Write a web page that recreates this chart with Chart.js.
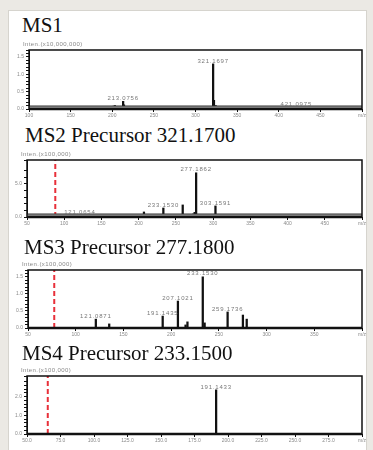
<!DOCTYPE html>
<html>
<head>
<meta charset="utf-8">
<script src="https://cdn.jsdelivr.net/npm/chart.js@4.4.1/dist/chart.umd.min.js"></script>
<style>
  body { margin: 0; width: 373px; height: 450px; background: #ebe9e4; position: relative; overflow: hidden; }
  #sheet { position: absolute; left: 8px; top: 10px; width: 357px; height: 445px; background: #fff; border: 1px solid #d6d4ce; }
  canvas { position: absolute; left: 0; }
  .ttl { position: absolute; font-family: "Liberation Serif", "DejaVu Serif", serif; font-size: 21px; line-height: 21px; color: #111; white-space: nowrap; letter-spacing: 0; }
</style>
</head>
<body>
<div id="sheet"></div>
<canvas id="ms1" width="373" height="83" style="top:38px"></canvas>
<canvas id="ms2" width="373" height="81" style="top:148px"></canvas>
<canvas id="ms3" width="373" height="82" style="top:258px"></canvas>
<canvas id="ms4" width="373" height="82" style="top:364px"></canvas>
<div class="ttl" style="left:22px; top:15px">MS1</div>
<div class="ttl" style="left:25px; top:125px">MS2 Precursor 321.1700</div>
<div class="ttl" style="left:24px; top:237px">MS3 Precursor 277.1800</div>
<div class="ttl" style="left:22px; top:343px">MS4 Precursor 233.1500</div>
<script>
// MS1 full scan
const ms1Mz = [201.0, 203.1, 213.0756, 214.1, 279.0, 321.1697, 322.17, 324.2, 405.0, 421.0975];
const ms1Int = [0.08, 0.10, 0.22, 0.12, 0.05, 1.30, 0.25, 0.10, 0.05, 0.06];
const ms1Labelled = [213.0756, 321.1697, 421.0975];

// MS2 of 321.17
const ms2Mz = [121.0654, 191.1, 207.1, 233.1530, 259.17, 273.2, 275.2, 277.1862, 279.2, 303.1591];
const ms2Int = [0.23, 0.30, 0.76, 1.36, 1.82, 0.45, 0.70, 6.67, 0.40, 1.67];
const ms2Labelled = [121.0654, 233.1530, 277.1862, 303.1591];

// MS3 of 277.18
const ms3Mz = [121.0871, 135.1, 191.1435, 207.1021, 215.1, 217.1, 233.1530, 235.1, 259.1736, 275.2, 279.2];
const ms3Int = [0.26, 0.12, 0.35, 0.79, 0.09, 0.18, 1.50, 0.15, 0.47, 0.38, 0.26];
const ms3Labelled = [121.0871, 191.1435, 207.1021, 233.1530, 259.1736];

// MS4 of 233.15
const ms4Mz = [191.1433];
const ms4Int = [2.36];
const ms4Labelled = [191.1433];

// low mass cut-off markers (red dashed)
const cutoffs = { ms2: 88, ms3: 77.5, ms4: 65.5 };

function spectrum(id, cfg) {
  const canvas = document.getElementById(id);
  const decor = {
    id: 'decor_' + id,
    afterDatasetsDraw(chart) {
      const ctx = chart.ctx, a = chart.chartArea;
      ctx.save();
      if (cfg.noise) {
        ctx.fillStyle = '#9c9c9c';
        ctx.fillRect(a.left, a.bottom - 3, a.right - a.left, 3);
        ctx.fillStyle = '#333';
        ctx.fillRect(a.left, a.bottom - 3.5, a.right - a.left, 1);
      }
      ctx.strokeStyle = '#111';
      ctx.lineWidth = 1.5;
      ctx.strokeRect(a.left, a.top, a.right - a.left, a.bottom - a.top);
      ctx.lineWidth = 2.5;
      ctx.beginPath();
      ctx.moveTo(a.left, a.bottom);
      ctx.lineTo(a.right, a.bottom);
      ctx.stroke();

      // peak labels
      const meta = chart.getDatasetMeta(0);
      const ds = chart.data.datasets[0];
      ctx.font = '6px "Liberation Sans", sans-serif';
      ctx.letterSpacing = '0.8px';
      ctx.fillStyle = '#777';
      ctx.textAlign = 'center';
      ctx.textBaseline = 'middle';
      meta.data.forEach((bar, i) => {
        const mz = ds.data[i].x;
        if (!cfg.labelled.includes(mz)) return;
        ctx.fillText(mz.toFixed(4), bar.x, bar.y - 3);
      });

      // intensity axis title
      ctx.letterSpacing = '0.4px';
      ctx.textAlign = 'left';
      ctx.fillStyle = '#888';
      ctx.fillText(cfg.axisTitle, a.left - 6, a.top - 6);
      ctx.restore();
    }
  };

  const datasets = [{
    type: 'bar',
    data: cfg.mz.map((m, i) => ({ x: m, y: cfg.inten[i] })),
    backgroundColor: '#111',
    barThickness: 1.6,
    grouped: false,
    order: 1
  }];
  if (cfg.cutoff) {
    datasets.push({
      type: 'line',
      data: [{ x: cfg.cutoff, y: 0 }, { x: cfg.cutoff, y: cfg.yMax }],
      borderColor: '#e8303a',
      borderWidth: 2,
      borderDash: [5, 3],
      pointRadius: 0,
      order: 0
    });
  }

  const isMajor = v => Math.abs(v / cfg.yMajor - Math.round(v / cfg.yMajor)) < 1e-6;

  new Chart(canvas, {
    type: 'bar',
    data: { datasets },
    options: {
      responsive: false,
      animation: false,
      layout: { padding: { top: cfg.frameTop - cfg.top, right: 11, left: 0, bottom: 0 } },
      plugins: { legend: { display: false }, tooltip: { enabled: false } },
      scales: {
        x: {
          type: 'linear',
          min: cfg.xMin,
          max: cfg.xMax,
          offset: false,
          grid: { offset: false, drawOnChartArea: false, tickLength: 3, color: '#111' },
          border: { color: '#111' },
          ticks: {
            stepSize: cfg.xStep,
            autoSkip: false,
            maxRotation: 0,
            padding: 1,
            color: '#8a8a8a',
            font: { size: 5, family: '"Liberation Sans", sans-serif' },
            callback: (v, i, ticks) => i === ticks.length - 1 ? 'm/z' : v.toFixed(cfg.xDecimals)
          },
          afterFit: s => { s.height = canvas.height - (cfg.frameBottom - cfg.top); }
        },
        y: {
          min: 0,
          max: cfg.yMax,
          grid: { drawOnChartArea: false, tickLength: 3, color: '#111' },
          border: { color: '#111' },
          ticks: {
            stepSize: cfg.yMinor,
            autoSkip: false,
            padding: 2,
            color: '#8a8a8a',
            font: { size: 5, family: '"Liberation Sans", sans-serif' },
            callback: v => isMajor(v) ? v.toFixed(1) : ''
          },
          afterFit: s => { s.width = cfg.frameLeft; }
        }
      }
    },
    plugins: [decor]
  });
}

spectrum('ms1', {
  mz: ms1Mz, inten: ms1Int, labelled: ms1Labelled,
  top: 38, frameTop: 50, frameBottom: 109, frameLeft: 29,
  xMin: 100, xMax: 500, xStep: 50, xDecimals: 0,
  yMax: 1.7, yMajor: 0.5, yMinor: 0.1,
  axisTitle: 'Inten.(x10,000,000)', noise: true
});
spectrum('ms2', {
  mz: ms2Mz, inten: ms2Int, labelled: ms2Labelled, cutoff: cutoffs.ms2,
  top: 148, frameTop: 160, frameBottom: 217, frameLeft: 27,
  xMin: 50, xMax: 500, xStep: 50, xDecimals: 0,
  yMax: 8.6, yMajor: 5, yMinor: 1,
  axisTitle: 'Inten.(x100,000)', noise: true
});
spectrum('ms3', {
  mz: ms3Mz, inten: ms3Int, labelled: ms3Labelled, cutoff: cutoffs.ms3,
  top: 258, frameTop: 270, frameBottom: 328, frameLeft: 28,
  xMin: 50, xMax: 400, xStep: 50, xDecimals: 0,
  yMax: 1.7, yMajor: 0.5, yMinor: 0.1,
  axisTitle: 'Inten.(x100,000)', noise: false
});
spectrum('ms4', {
  mz: ms4Mz, inten: ms4Int, labelled: ms4Labelled, cutoff: cutoffs.ms4,
  top: 364, frameTop: 376, frameBottom: 434, frameLeft: 27,
  xMin: 50, xMax: 300, xStep: 25, xDecimals: 1,
  yMax: 3.1, yMajor: 1, yMinor: 0.2,
  axisTitle: 'Inten.(x100,000)', noise: false
});
</script>
</body>
</html>
